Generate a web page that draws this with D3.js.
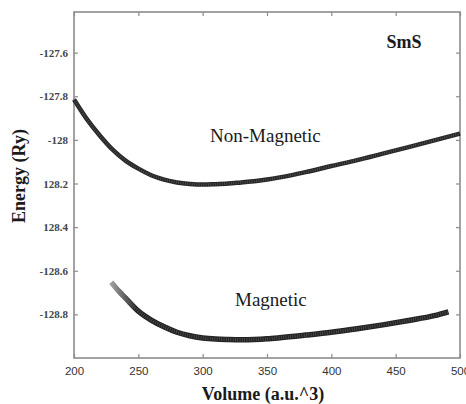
<!DOCTYPE html>
<html>
<head>
<meta charset="utf-8">
<script src="https://cdn.jsdelivr.net/npm/d3@7"></script>
<style>
  html, body { margin: 0; padding: 0; background: #fff; }
  svg { display: block; }
</style>
</head>
<body>
<div id="chart"></div>
<script>
// volume (a.u.^3) and energy (Ry)
const nonMagVolume = [200, 210, 220, 230, 240, 250, 260, 270, 280, 290, 300, 310, 320, 330, 340, 350, 360, 380, 400, 420, 440, 460, 480, 500];
const nonMagEnergy = [-127.815, -127.905, -127.98, -128.045, -128.095, -128.132, -128.162, -128.182, -128.195, -128.202, -128.205, -128.203, -128.2, -128.195, -128.19, -128.182, -128.172, -128.148, -128.12, -128.093, -128.063, -128.033, -128.002, -127.971];

const magVolume = [229, 235, 240, 250, 260, 270, 280, 290, 300, 310, 320, 330, 340, 350, 360, 380, 400, 420, 440, 460, 480, 491];
const magEnergy = [-128.653, -128.695, -128.725, -128.785, -128.826, -128.857, -128.882, -128.898, -128.908, -128.913, -128.915, -128.916, -128.915, -128.912, -128.907, -128.895, -128.882, -128.866, -128.848, -128.828, -128.806, -128.788];

const xTicks = [200, 250, 300, 350, 400, 450, 500];
const yTicks = [-127.6, -127.8, -128, -128.2, -128.4, -128.6, -128.8];
// tick labels as printed (two have lost their minus sign)
const yTickLabels = ["-127.6", "-127.8", "-128", "128.2", "128.4", "-128.6", "-128.8"];

const W = 466, H = 404;
const plotLeft = 74, plotRight = 460, plotTop = 12, plotBottom = 358;
const serif = "'Liberation Serif', 'Times New Roman', serif";

const svg = d3.select("#chart").append("svg")
  .attr("width", W).attr("height", H);

const x = d3.scaleLinear().domain([200, 500]).range([plotLeft, plotRight]);
const y = d3.scaleLinear().domain([-129, -127.4]).range([358, 9]);

// frame
svg.append("rect")
  .attr("x", plotLeft).attr("y", plotTop)
  .attr("width", plotRight - plotLeft).attr("height", plotBottom - plotTop)
  .attr("fill", "none").attr("stroke", "#8c8c8c").attr("stroke-width", 1.6);

// inward ticks, bottom and top
svg.append("g")
  .attr("transform", `translate(0,${plotBottom})`)
  .call(d3.axisBottom(x).tickValues(xTicks).tickSizeInner(-4).tickSizeOuter(0).tickPadding(9))
  .call(g => g.select(".domain").remove())
  .call(g => g.selectAll("line").attr("stroke", "#8c8c8c").attr("stroke-width", 1.2))
  .call(g => g.selectAll("text")
    .style("font-family", "'Liberation Sans Narrow', 'Arial Narrow', 'Liberation Sans', sans-serif")
    .style("font-size", "11.5px").attr("fill", "#333"));

svg.append("g")
  .attr("transform", `translate(0,${plotTop})`)
  .call(d3.axisTop(x).tickValues(xTicks).tickSizeInner(-4).tickSizeOuter(0).tickFormat(""))
  .call(g => g.select(".domain").remove())
  .call(g => g.selectAll("line").attr("stroke", "#8c8c8c").attr("stroke-width", 1.2));

// inward ticks, left and right
svg.append("g")
  .attr("transform", `translate(${plotLeft},0)`)
  .call(d3.axisLeft(y).tickValues(yTicks).tickSizeInner(-4).tickSizeOuter(0).tickPadding(6)
    .tickFormat((d, i) => yTickLabels[i]))
  .call(g => g.select(".domain").remove())
  .call(g => g.selectAll("line").attr("stroke", "#8c8c8c").attr("stroke-width", 1.2))
  .call(g => g.selectAll("text")
    .style("font-family", serif)
    .style("font-size", "11px").style("font-weight", "bold").attr("fill", "#444"));

svg.append("g")
  .attr("transform", `translate(${plotRight},0)`)
  .call(d3.axisRight(y).tickValues(yTicks).tickSizeInner(-4).tickSizeOuter(0).tickFormat(""))
  .call(g => g.select(".domain").remove())
  .call(g => g.selectAll("line").attr("stroke", "#8c8c8c").attr("stroke-width", 1.2));

// curves
const defs = svg.append("defs");
const grad = defs.append("linearGradient")
  .attr("id", "magFade").attr("gradientUnits", "userSpaceOnUse")
  .attr("x1", x(229)).attr("x2", x(248)).attr("y1", 0).attr("y2", 0);
grad.append("stop").attr("offset", 0).attr("stop-color", "#a0a0a0");
grad.append("stop").attr("offset", 1).attr("stop-color", "#222");

const line = d3.line()
  .x(d => x(d[0]))
  .y(d => y(d[1]))
  .curve(d3.curveMonotoneX);

function drawCurve(vols, energies, width, color) {
  const pts = d3.zip(vols, energies);
  svg.append("path")
    .attr("d", line(pts))
    .attr("fill", "none")
    .attr("stroke", color)
    .attr("stroke-width", width);
  // hatched look of the dense cross markers
  svg.append("path")
    .attr("d", line(pts))
    .attr("fill", "none")
    .attr("stroke", "#999")
    .attr("stroke-opacity", 0.45)
    .attr("stroke-width", width - 2)
    .attr("stroke-dasharray", "0.7,1.6");
}

drawCurve(nonMagVolume, nonMagEnergy, 4.5, "#262626");
drawCurve(magVolume, magEnergy, 5.5, "url(#magFade)");

// labels
svg.append("text")
  .attr("x", 210).attr("y", 142)
  .style("font-family", serif).style("font-size", "19px").attr("fill", "#1a1a1a")
  .text("Non-Magnetic");

svg.append("text")
  .attr("x", 235).attr("y", 306)
  .style("font-family", serif).style("font-size", "19px").attr("fill", "#1a1a1a")
  .text("Magnetic");

svg.append("text")
  .attr("x", 404).attr("y", 48)
  .attr("text-anchor", "middle")
  .style("font-family", serif).style("font-size", "18px").style("font-weight", "bold").attr("fill", "#1a1a1a")
  .text("SmS");

svg.append("text")
  .attr("x", 263).attr("y", 400)
  .attr("text-anchor", "middle")
  .style("font-family", serif).style("font-size", "18px").style("font-weight", "bold").attr("fill", "#1a1a1a")
  .text("Volume (a.u.^3)");

svg.append("text")
  .attr("transform", "translate(25,176) rotate(-90)")
  .attr("text-anchor", "middle")
  .style("font-family", serif).style("font-size", "18px").style("font-weight", "bold").attr("fill", "#1a1a1a")
  .text("Energy (Ry)");
</script>
</body>
</html>
